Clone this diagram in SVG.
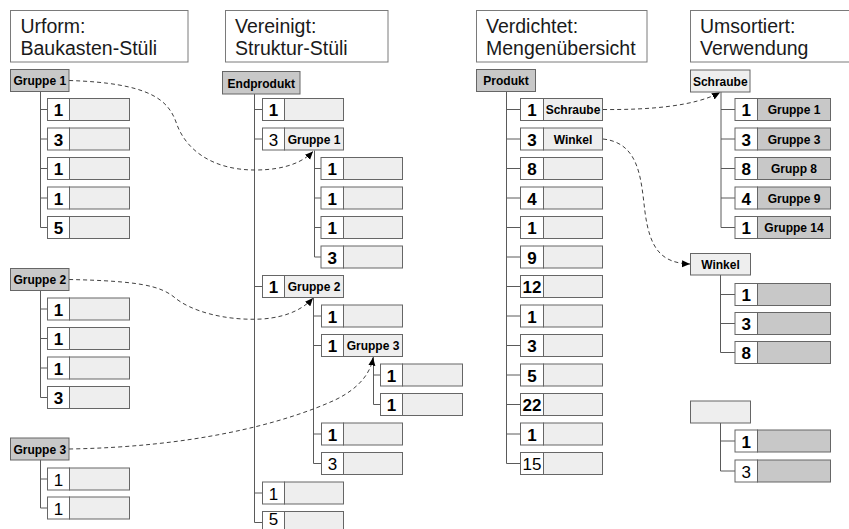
<svg xmlns="http://www.w3.org/2000/svg" width="849" height="529" viewBox="0 0 849 529">
  <style>
    .hdr { fill: #ffffff; stroke: #7a7a7a; stroke-width: 1; }
    .hdrtxt { font-family: "Liberation Sans", Arial, sans-serif; font-size: 19.5px; fill: #1a1a1a; }
    .num { fill: #ffffff; stroke: #666666; stroke-width: 1; }
    .lt { fill: #eeeeee; stroke: #666666; stroke-width: 1; }
    .dk { fill: #c8c8c8; stroke: #666666; stroke-width: 1; }
    .q { font-family: "Liberation Sans", Arial, sans-serif; font-size: 17px; font-weight: bold; fill: #000; text-anchor: middle; }
    .qt { font-family: "Liberation Sans", Arial, sans-serif; font-size: 17px; fill: #000; text-anchor: middle; }
    .lbl { font-family: "Liberation Sans", Arial, sans-serif; font-size: 12px; font-weight: bold; fill: #000; text-anchor: middle; }
    .tree { fill: none; stroke: #5a5a5a; stroke-width: 1; }
    .link { fill: none; stroke: #404040; stroke-width: 1; stroke-dasharray: 4 3; marker-end: url(#tip); }
  </style>
  <defs>
    <marker id="tip" markerUnits="userSpaceOnUse" markerWidth="9" markerHeight="8" refX="8" refY="3.5" orient="auto">
      <path d="M0,0 L8,3.5 L0,7 z" fill="#000"/>
    </marker>
  </defs>

  <!-- column headings -->
  <g id="heading-urform">
    <rect class="hdr" x="10.5" y="10.5" width="177.5" height="51.5"/>
    <text class="hdrtxt" x="20.5" y="33">Urform:</text>
    <text class="hdrtxt" x="20.5" y="55">Baukasten-Stüli</text>
  </g>
  <g id="heading-vereinigt">
    <rect class="hdr" x="225.5" y="10.5" width="162.5" height="51.5"/>
    <text class="hdrtxt" x="235" y="33">Vereinigt:</text>
    <text class="hdrtxt" x="235" y="55">Struktur-Stüli</text>
  </g>
  <g id="heading-verdichtet">
    <rect class="hdr" x="476.5" y="10.5" width="170.5" height="51.5"/>
    <text class="hdrtxt" x="486" y="33">Verdichtet:</text>
    <text class="hdrtxt" x="486" y="55">Mengenübersicht</text>
  </g>
  <g id="heading-umsortiert">
    <rect class="hdr" x="690.5" y="10.5" width="180" height="51.5"/>
    <text class="hdrtxt" x="700" y="33">Umsortiert:</text>
    <text class="hdrtxt" x="700" y="55">Verwendung</text>
  </g>

  <!-- tree lines -->
  <g id="tree-lines" class="tree">
    <!-- column 1 -->
    <path d="M40.5,91.5 V227.5 M40.5,109.5 H47.5 M40.5,139 H47.5 M40.5,168.5 H47.5 M40.5,198 H47.5 M40.5,227.5 H47.5"/>
    <path d="M40.5,290.5 V397.5 M40.5,309 H47.5 M40.5,338.5 H47.5 M40.5,368 H47.5 M40.5,397.5 H47.5"/>
    <path d="M40.5,460 V508 M40.5,479 H47.5 M40.5,508 H47.5"/>
    <!-- column 2 -->
    <path d="M254.5,94 V522.5 M254.5,109.5 H262.5 M254.5,139 H262.5 M254.5,286.5 H262.5 M254.5,493 H262.5 M254.5,522.5 H262.5"/>
    <path d="M314.5,150.5 V257 M314.5,168.5 H321 M314.5,198 H321 M314.5,227.5 H321 M314.5,257 H321"/>
    <path d="M313.5,297.5 V463.5 M313.5,316 H321.5 M313.5,345.5 H321.5 M313.5,434 H321.5 M313.5,463.5 H321.5"/>
    <path d="M373.5,357 V404.5 M373.5,375 H380.5 M373.5,404.5 H380.5"/>
    <!-- column 3 -->
    <path d="M506.5,91.5 V463.5 M506.5,109.5 H520.5 M506.5,139 H520.5 M506.5,168.5 H520.5 M506.5,198 H520.5 M506.5,227.5 H520.5 M506.5,257 H520.5 M506.5,286.5 H520.5 M506.5,316 H520.5 M506.5,345.5 H520.5 M506.5,375 H520.5 M506.5,404.5 H520.5 M506.5,434 H520.5 M506.5,463.5 H520.5"/>
    <!-- column 4 -->
    <path d="M721,92 V227.5 M721,109.5 H735 M721,139 H735 M721,168.5 H735 M721,198 H735 M721,227.5 H735"/>
    <path d="M720.5,275 V352.5 M720.5,294.5 H735 M720.5,323.5 H735 M720.5,352.5 H735"/>
    <path d="M720.5,423 V471 M720.5,441 H735 M720.5,471 H735"/>
  </g>

  <!-- column 1: Baukasten-Stüli -->
  <g id="g1">
    <rect class="dk" x="10.5" y="69.5" width="58.5" height="22"/>
    <text class="lbl" x="39.75" y="85">Gruppe 1</text>
  </g>
  <g id="g1-r1"><rect class="num" x="47.5" y="98.5" width="22" height="22"/><rect class="lt" x="69.5" y="98.5" width="60" height="22"/><text class="q" x="58.5" y="116">1</text></g>
  <g id="g1-r2"><rect class="num" x="47.5" y="128" width="22" height="22"/><rect class="lt" x="69.5" y="128" width="60" height="22"/><text class="q" x="58.5" y="145.5">3</text></g>
  <g id="g1-r3"><rect class="num" x="47.5" y="157.5" width="22" height="22"/><rect class="lt" x="69.5" y="157.5" width="60" height="22"/><text class="q" x="58.5" y="175">1</text></g>
  <g id="g1-r4"><rect class="num" x="47.5" y="187" width="22" height="22"/><rect class="lt" x="69.5" y="187" width="60" height="22"/><text class="q" x="58.5" y="204.5">1</text></g>
  <g id="g1-r5"><rect class="num" x="47.5" y="216.5" width="22" height="22"/><rect class="lt" x="69.5" y="216.5" width="60" height="22"/><text class="q" x="58.5" y="234">5</text></g>

  <g id="g2">
    <rect class="dk" x="10.5" y="268.5" width="58.5" height="22"/>
    <text class="lbl" x="39.75" y="284">Gruppe 2</text>
  </g>
  <g id="g2-r1"><rect class="num" x="47.5" y="298" width="22" height="22"/><rect class="lt" x="69.5" y="298" width="60" height="22"/><text class="q" x="58.5" y="315.5">1</text></g>
  <g id="g2-r2"><rect class="num" x="47.5" y="327.5" width="22" height="22"/><rect class="lt" x="69.5" y="327.5" width="60" height="22"/><text class="q" x="58.5" y="345">1</text></g>
  <g id="g2-r3"><rect class="num" x="47.5" y="357" width="22" height="22"/><rect class="lt" x="69.5" y="357" width="60" height="22"/><text class="q" x="58.5" y="374.5">1</text></g>
  <g id="g2-r4"><rect class="num" x="47.5" y="386.5" width="22" height="22"/><rect class="lt" x="69.5" y="386.5" width="60" height="22"/><text class="q" x="58.5" y="404">3</text></g>

  <g id="g3">
    <rect class="dk" x="10.5" y="438" width="58.5" height="22"/>
    <text class="lbl" x="39.75" y="453.5">Gruppe 3</text>
  </g>
  <g id="g3-r1"><rect class="num" x="47.5" y="468" width="22" height="22"/><rect class="lt" x="69.5" y="468" width="60" height="22"/><text class="qt" x="58.5" y="485.5">1</text></g>
  <g id="g3-r2"><rect class="num" x="47.5" y="497" width="22" height="22"/><rect class="lt" x="69.5" y="497" width="60" height="22"/><text class="qt" x="58.5" y="514.5">1</text></g>

  <!-- column 2: Struktur-Stüli -->
  <g id="endprodukt">
    <rect class="dk" x="222.5" y="71.5" width="77.5" height="22.5"/>
    <text class="lbl" x="261.25" y="87.5">Endprodukt</text>
  </g>
  <g id="s-r1"><rect class="num" x="262.5" y="98.5" width="22" height="22"/><rect class="lt" x="284.5" y="98.5" width="59" height="22"/><text class="q" x="273.5" y="116">1</text></g>
  <g id="s-g1"><rect class="num" x="262.5" y="128" width="22" height="22"/><rect class="lt" x="284.5" y="128" width="59" height="22"/><text class="qt" x="273.5" y="145.5">3</text><text class="lbl" x="314" y="143.5">Gruppe 1</text></g>
  <g id="s-g1-r1"><rect class="num" x="321" y="157.5" width="22.5" height="22"/><rect class="lt" x="343.5" y="157.5" width="59" height="22"/><text class="q" x="332.25" y="175">1</text></g>
  <g id="s-g1-r2"><rect class="num" x="321" y="187" width="22.5" height="22"/><rect class="lt" x="343.5" y="187" width="59" height="22"/><text class="q" x="332.25" y="204.5">1</text></g>
  <g id="s-g1-r3"><rect class="num" x="321" y="216.5" width="22.5" height="22"/><rect class="lt" x="343.5" y="216.5" width="59" height="22"/><text class="q" x="332.25" y="234">1</text></g>
  <g id="s-g1-r4"><rect class="num" x="321" y="246" width="22.5" height="22"/><rect class="lt" x="343.5" y="246" width="59" height="22"/><text class="q" x="332.25" y="263.5">3</text></g>
  <g id="s-g2"><rect class="num" x="262.5" y="275.5" width="22" height="22"/><rect class="lt" x="284.5" y="275.5" width="59" height="22"/><text class="q" x="273.5" y="293">1</text><text class="lbl" x="314" y="291">Gruppe 2</text></g>
  <g id="s-g2-r1"><rect class="num" x="321.5" y="305" width="22" height="22"/><rect class="lt" x="343.5" y="305" width="59" height="22"/><text class="q" x="332.5" y="322.5">1</text></g>
  <g id="s-g3"><rect class="num" x="321.5" y="334.5" width="22" height="22"/><rect class="lt" x="343.5" y="334.5" width="59" height="22"/><text class="q" x="332.5" y="352">1</text><text class="lbl" x="373" y="350">Gruppe 3</text></g>
  <g id="s-g3-r1"><rect class="num" x="380.5" y="364" width="22" height="22"/><rect class="lt" x="402.5" y="364" width="60" height="22"/><text class="q" x="391.5" y="381.5">1</text></g>
  <g id="s-g3-r2"><rect class="num" x="380.5" y="393.5" width="22" height="22"/><rect class="lt" x="402.5" y="393.5" width="60" height="22"/><text class="q" x="391.5" y="411">1</text></g>
  <g id="s-g2-r2"><rect class="num" x="321.5" y="423" width="22" height="22"/><rect class="lt" x="343.5" y="423" width="59" height="22"/><text class="q" x="332.5" y="440.5">1</text></g>
  <g id="s-g2-r3"><rect class="num" x="321.5" y="452.5" width="22" height="22"/><rect class="lt" x="343.5" y="452.5" width="59" height="22"/><text class="qt" x="332.5" y="470">3</text></g>
  <g id="s-r4"><rect class="num" x="262.5" y="482" width="22" height="22"/><rect class="lt" x="284.5" y="482" width="59" height="22"/><text class="qt" x="273.5" y="499.5">1</text></g>
  <g id="s-r5"><rect class="num" x="262.5" y="511.5" width="22" height="22"/><rect class="lt" x="284.5" y="511.5" width="59" height="22"/><text class="qt" x="273.5" y="525">5</text></g>

  <!-- column 3: Mengenübersicht -->
  <g id="produkt">
    <rect class="dk" x="476.5" y="69.5" width="59" height="22"/>
    <text class="lbl" x="506" y="85">Produkt</text>
  </g>
  <g id="m-schraube"><rect class="num" x="520.5" y="98.5" width="23" height="22"/><rect class="lt" x="543.5" y="98.5" width="59" height="22"/><text class="q" x="532" y="116">1</text><text class="lbl" x="573" y="114">Schraube</text></g>
  <g id="m-winkel"><rect class="num" x="520.5" y="128" width="23" height="22"/><rect class="lt" x="543.5" y="128" width="59" height="22"/><text class="q" x="532" y="145.5">3</text><text class="lbl" x="573" y="143.5">Winkel</text></g>
  <g id="m-r3"><rect class="num" x="520.5" y="157.5" width="23" height="22"/><rect class="lt" x="543.5" y="157.5" width="59" height="22"/><text class="q" x="532" y="175">8</text></g>
  <g id="m-r4"><rect class="num" x="520.5" y="187" width="23" height="22"/><rect class="lt" x="543.5" y="187" width="59" height="22"/><text class="q" x="532" y="204.5">4</text></g>
  <g id="m-r5"><rect class="num" x="520.5" y="216.5" width="23" height="22"/><rect class="lt" x="543.5" y="216.5" width="59" height="22"/><text class="q" x="532" y="234">1</text></g>
  <g id="m-r6"><rect class="num" x="520.5" y="246" width="23" height="22"/><rect class="lt" x="543.5" y="246" width="59" height="22"/><text class="q" x="532" y="263.5">9</text></g>
  <g id="m-r7"><rect class="num" x="520.5" y="275.5" width="23" height="22"/><rect class="lt" x="543.5" y="275.5" width="59" height="22"/><text class="q" x="532" y="293">12</text></g>
  <g id="m-r8"><rect class="num" x="520.5" y="305" width="23" height="22"/><rect class="lt" x="543.5" y="305" width="59" height="22"/><text class="q" x="532" y="322.5">1</text></g>
  <g id="m-r9"><rect class="num" x="520.5" y="334.5" width="23" height="22"/><rect class="lt" x="543.5" y="334.5" width="59" height="22"/><text class="q" x="532" y="352">3</text></g>
  <g id="m-r10"><rect class="num" x="520.5" y="364" width="23" height="22"/><rect class="lt" x="543.5" y="364" width="59" height="22"/><text class="q" x="532" y="381.5">5</text></g>
  <g id="m-r11"><rect class="num" x="520.5" y="393.5" width="23" height="22"/><rect class="lt" x="543.5" y="393.5" width="59" height="22"/><text class="q" x="532" y="411">22</text></g>
  <g id="m-r12"><rect class="num" x="520.5" y="423" width="23" height="22"/><rect class="lt" x="543.5" y="423" width="59" height="22"/><text class="q" x="532" y="440.5">1</text></g>
  <g id="m-r13"><rect class="num" x="520.5" y="452.5" width="23" height="22"/><rect class="lt" x="543.5" y="452.5" width="59" height="22"/><text class="qt" x="532" y="470">15</text></g>

  <!-- column 4: Verwendung -->
  <g id="v-schraube">
    <rect class="lt" x="690.5" y="70" width="59.5" height="22"/>
    <text class="lbl" x="720.25" y="85.5">Schraube</text>
  </g>
  <g id="v-s-r1"><rect class="num" x="735" y="98.5" width="22.5" height="22"/><rect class="dk" x="757.5" y="98.5" width="73" height="22"/><text class="q" x="746.25" y="116">1</text><text class="lbl" x="794" y="114">Gruppe 1</text></g>
  <g id="v-s-r2"><rect class="num" x="735" y="128" width="22.5" height="22"/><rect class="dk" x="757.5" y="128" width="73" height="22"/><text class="q" x="746.25" y="145.5">3</text><text class="lbl" x="794" y="143.5">Gruppe 3</text></g>
  <g id="v-s-r3"><rect class="num" x="735" y="157.5" width="22.5" height="22"/><rect class="dk" x="757.5" y="157.5" width="73" height="22"/><text class="q" x="746.25" y="175">8</text><text class="lbl" x="794" y="173">Grupp 8</text></g>
  <g id="v-s-r4"><rect class="num" x="735" y="187" width="22.5" height="22"/><rect class="dk" x="757.5" y="187" width="73" height="22"/><text class="q" x="746.25" y="204.5">4</text><text class="lbl" x="794" y="202.5">Gruppe 9</text></g>
  <g id="v-s-r5"><rect class="num" x="735" y="216.5" width="22.5" height="22"/><rect class="dk" x="757.5" y="216.5" width="73" height="22"/><text class="q" x="746.25" y="234">1</text><text class="lbl" x="794" y="232">Gruppe 14</text></g>

  <g id="v-winkel">
    <rect class="lt" x="690.5" y="253.5" width="60" height="21.5"/>
    <text class="lbl" x="720.5" y="268.5">Winkel</text>
  </g>
  <g id="v-w-r1"><rect class="num" x="735" y="283.5" width="22.5" height="22"/><rect class="dk" x="757.5" y="283.5" width="73" height="22"/><text class="q" x="746.25" y="301">1</text></g>
  <g id="v-w-r2"><rect class="num" x="735" y="312.5" width="22.5" height="22"/><rect class="dk" x="757.5" y="312.5" width="73" height="22"/><text class="q" x="746.25" y="330">3</text></g>
  <g id="v-w-r3"><rect class="num" x="735" y="341.5" width="22.5" height="22"/><rect class="dk" x="757.5" y="341.5" width="73" height="22"/><text class="q" x="746.25" y="359">8</text></g>

  <g id="v-leer">
    <rect class="lt" x="690.5" y="401" width="60" height="22"/>
  </g>
  <g id="v-l-r1"><rect class="num" x="735" y="430" width="22.5" height="22"/><rect class="dk" x="757.5" y="430" width="73" height="22"/><text class="q" x="746.25" y="447.5">1</text></g>
  <g id="v-l-r2"><rect class="num" x="735" y="460" width="22.5" height="22"/><rect class="dk" x="757.5" y="460" width="73" height="22"/><text class="qt" x="746.25" y="477.5">3</text></g>

  <!-- dashed reference links -->
  <g id="links">
    <path class="link" d="M69,80.5 C150,83 168,100 176,122 C186,152 215,170 255,170 C285,170 303,162 313,151.5"/>
    <path class="link" d="M69,279.5 C140,281 160,286 174,297 C190,311 225,321 262,319 C290,317 305,307 313,298"/>
    <path class="link" d="M69,449 C190,447 280,425 335,400 C360,388 371,372 373,357.5"/>
    <path class="link" d="M603,109.5 C650,110 695,106 720,92.5"/>
    <path class="link" d="M603,139 C640,143 641,180 645,212 C650,250 662,263 690,264"/>
  </g>
</svg>
